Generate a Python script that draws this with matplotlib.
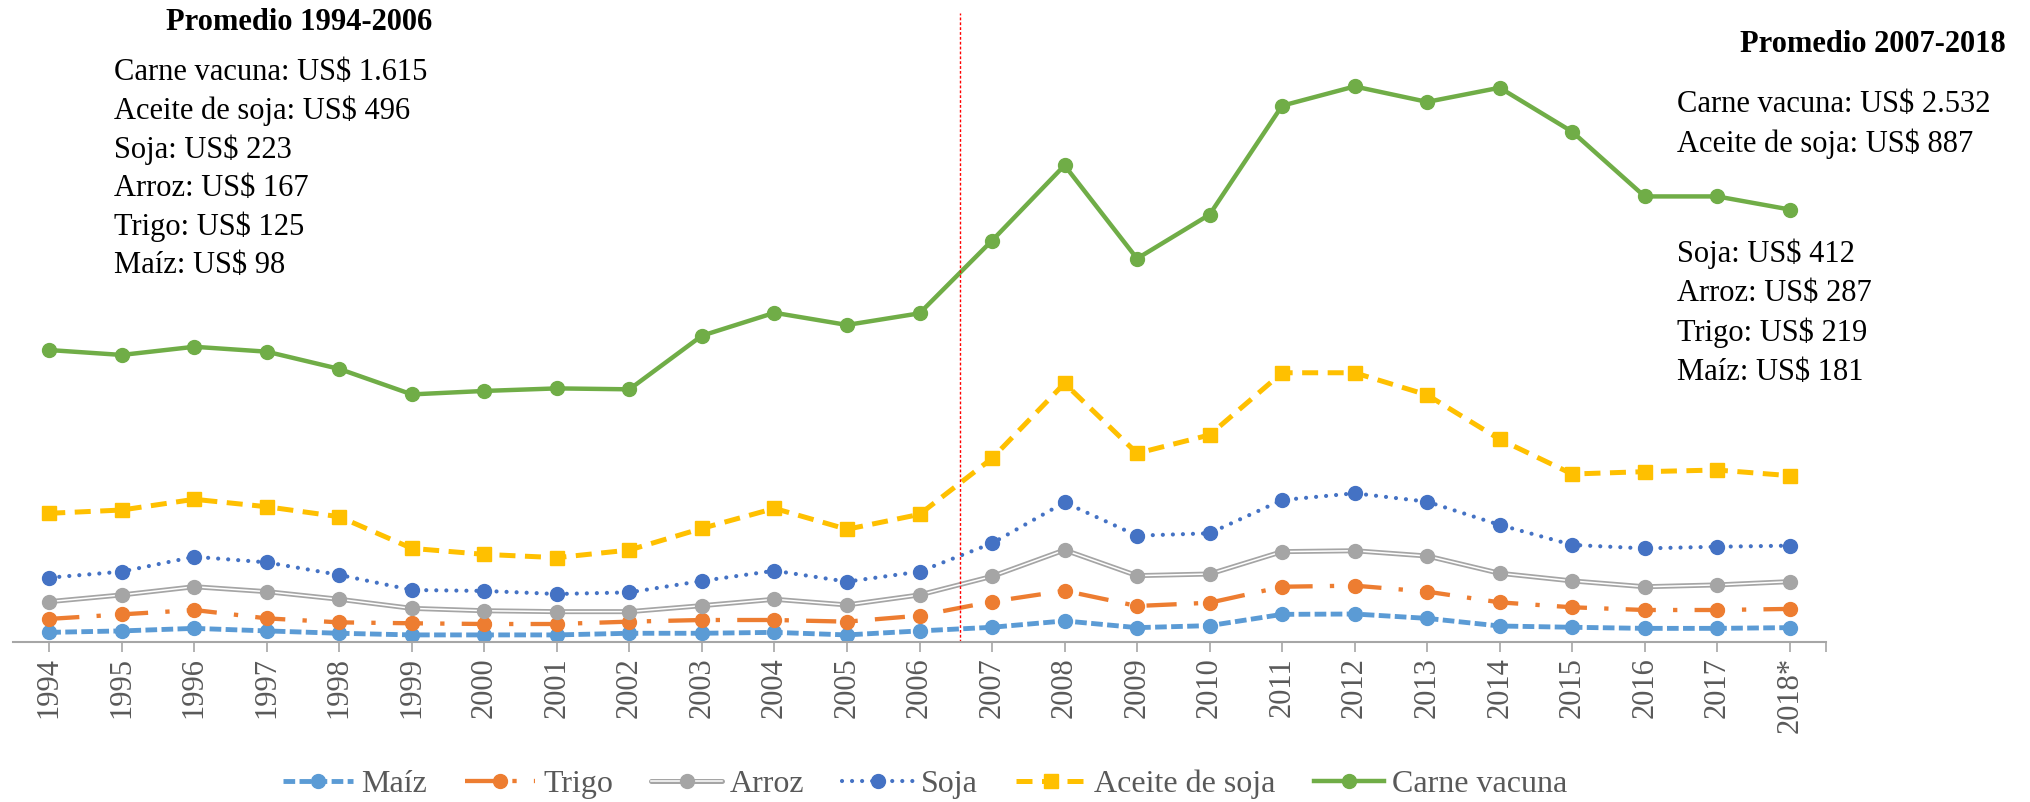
import numpy as np
import matplotlib.pyplot as plt
from matplotlib.legend_handler import HandlerTuple

plt.rcParams['font.family'] = ['Liberation Serif', 'DejaVu Serif']

# Data (US$ / t)
years = ['1994', '1995', '1996', '1997', '1998', '1999', '2000', '2001', '2002',
         '2003', '2004', '2005', '2006', '2007', '2008', '2009', '2010', '2011',
         '2012', '2013', '2014', '2015', '2016', '2017', '2018*']

maiz = [53, 61, 75, 61, 48, 39, 39, 39, 48, 48, 53, 39, 61,
        81, 116, 79, 90, 152, 154, 130, 88, 81, 75, 75, 79]
trigo = [127, 152, 176, 130, 108, 103, 99, 99, 112, 121, 121, 112, 145,
         222, 282, 198, 216, 304, 310, 277, 218, 191, 176, 176, 182]
arroz = [222, 259, 304, 277, 235, 185, 172, 167, 167, 200, 235, 204, 259,
         361, 506, 365, 374, 497, 502, 473, 378, 336, 304, 314, 332]
soja = [354, 387, 469, 438, 369, 286, 281, 264, 273, 336, 392, 332, 387,
        543, 768, 585, 598, 781, 818, 772, 644, 534, 515, 524, 530]
aceite = [708, 726, 785, 744, 689, 515, 482, 464, 506, 625, 735, 620, 702,
          1010, 1423, 1038, 1139, 1481, 1481, 1359, 1115, 924, 937, 946, 915]
carne = [1606, 1579, 1624, 1597, 1502, 1362, 1381, 1395, 1390, 1685, 1811, 1744, 1808,
         2208, 2622, 2109, 2351, 2950, 3056, 2971, 3049, 2807, 2451, 2451, 2379]

prom_1 = ['Carne vacuna: US$ 1.615', 'Aceite de soja: US$ 496', 'Soja: US$ 223',
          'Arroz: US$ 167', 'Trigo: US$ 125', 'Maíz: US$ 98']
prom_2a = ['Carne vacuna: US$ 2.532', 'Aceite de soja: US$ 887']
prom_2b = ['Soja: US$ 412', 'Arroz: US$ 287', 'Trigo: US$ 219', 'Maíz: US$ 181']

W, H = 2031, 802
fig = plt.figure(figsize=(W / 100, H / 100), dpi=100)
ax = fig.add_axes([13 / W, 1 - 642 / H, (1826 - 13) / W, (642 - 13) / H])

x = np.arange(len(years))
ms = 10

l_maiz, = ax.plot(x, maiz, color='#5B9BD5', lw=3.5, ls=(0, (2.4, 0.9)),
                  marker='o', ms=ms, label='Maíz')
l_trigo, = ax.plot(x, trigo, color='#ED7D31', lw=3.1, ls=(0, (7, 4, 1, 4)),
                   marker='o', ms=ms, label='Trigo')
a1, = ax.plot(x, arroz, color='#A5A5A5', lw=3.6, solid_capstyle='round')
a2, = ax.plot(x, arroz, color='white', lw=1.1)
a3, = ax.plot(x, arroz, color='#A5A5A5', lw=0, marker='o', ms=ms)
l_soja, = ax.plot(x, soja, color='#4472C4', lw=3.0, ls=(0, (0.01, 2.4)),
                  dash_capstyle='round', marker='o', ms=ms, label='Soja')
l_aceite, = ax.plot(x, aceite, color='#FFC000', lw=3.6, ls=(0, (3.2, 1.9)),
                    marker='s', ms=ms, label='Aceite de soja')
l_carne, = ax.plot(x, carne, color='#70AD47', lw=3.2, marker='o', ms=ms,
                   label='Carne vacuna')

# separation between the two periods
ax.axvline(12.56, color='red', lw=1.0, ls=(0, (2, 1.5)))

ax.set_xlim(-0.5, 24.5)
ax.set_ylim(0, 3460)
ax.set_xticks(x)
ax.set_xticks([24.5], minor=True)
ax.set_xticklabels(years, rotation=90, fontsize=22, color='#595959')
ax.set_yticks([])
for s in ['top', 'right', 'left']:
    ax.spines[s].set_visible(False)
ax.spines['bottom'].set_color('#A6A6A6')
ax.spines['bottom'].set_linewidth(1.5)
ax.tick_params(axis='x', which='both', length=7, width=1.2, color='#A6A6A6', pad=4)

handles = [l_maiz, l_trigo, (a1, a2, a3), l_soja, l_aceite, l_carne]
labels = ['Maíz', 'Trigo', 'Arroz', 'Soja', 'Aceite de soja', 'Carne vacuna']
leg = fig.legend(handles, labels, loc='center', bbox_to_anchor=(925 / W, 1 - 784 / H),
                 ncol=6, frameon=False, fontsize=23, handlelength=2.2,
                 columnspacing=1.2, handletextpad=0.25,
                 handler_map={tuple: HandlerTuple(ndivide=1)})
for t in leg.get_texts():
    t.set_color('#595959')

# period averages
fig.text(299 / W, 1 - 23 / H, 'Promedio 1994-2006', fontsize=22, fontweight='bold',
         ha='center', va='center')
for i, s in enumerate(prom_1):
    fig.text(114 / W, 1 - (72 + 38.7 * i) / H, s, fontsize=22, ha='left', va='center')

fig.text(2006 / W, 1 - 45 / H, 'Promedio 2007-2018', fontsize=22, fontweight='bold',
         ha='right', va='center')
for i, s in enumerate(prom_2a):
    fig.text(1677 / W, 1 - (105 + 39 * i) / H, s, fontsize=22, ha='left', va='center')
for i, s in enumerate(prom_2b):
    fig.text(1677 / W, 1 - (254 + 39.5 * i) / H, s, fontsize=22, ha='left', va='center')

fig.savefig('out.png', dpi=100)
